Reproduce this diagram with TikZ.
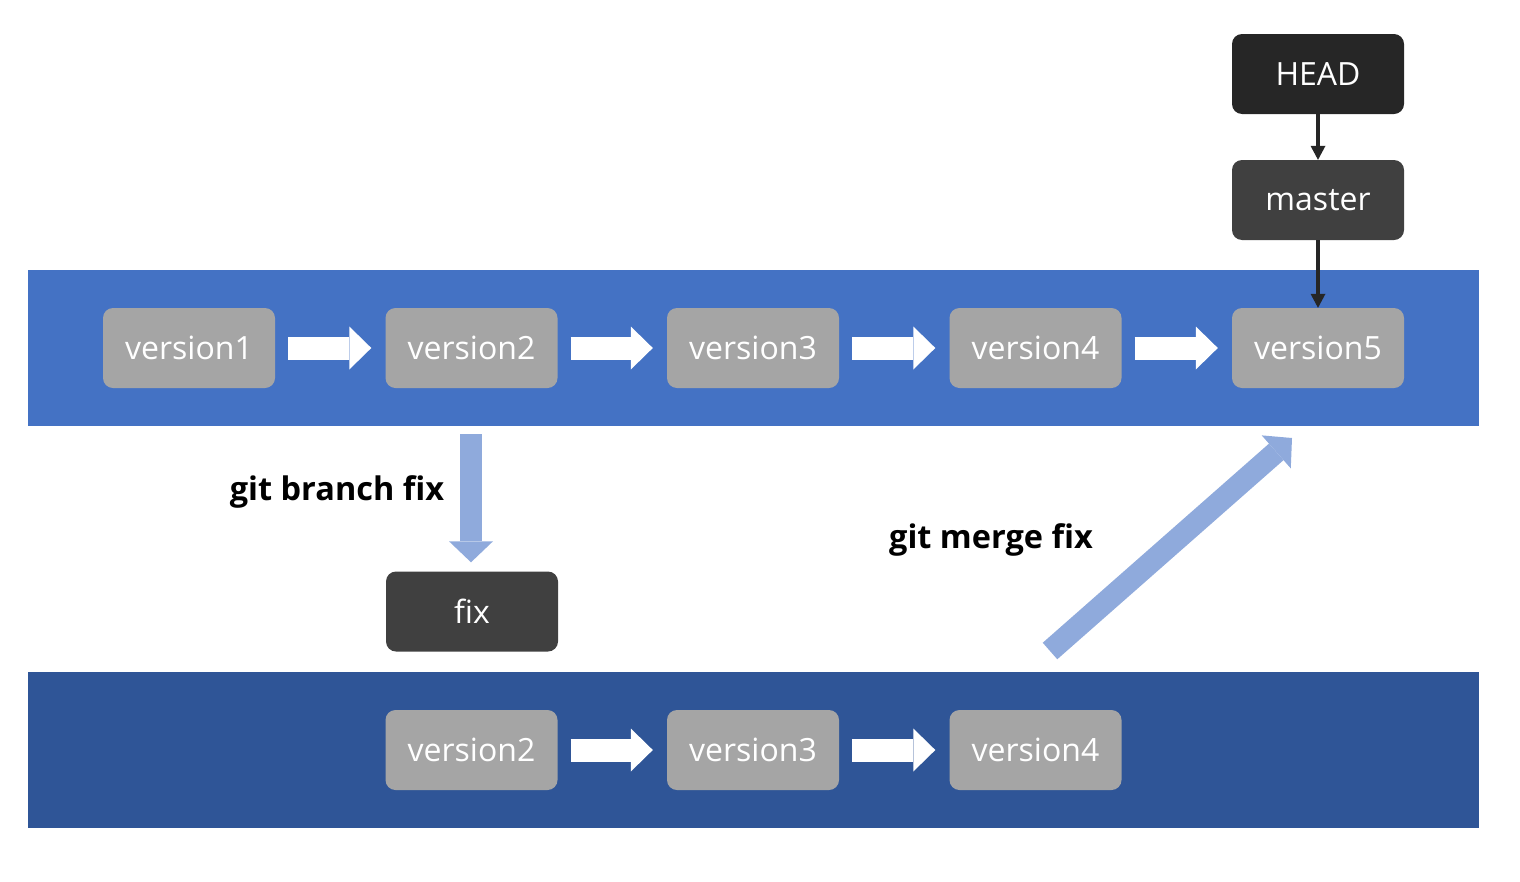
\documentclass[tikz,border=0pt]{standalone}
\usepackage{fontspec}
\setmainfont{Open Sans}
\usetikzlibrary{arrows.meta}
\definecolor{bandA}{HTML}{4472C4}
\definecolor{bandB}{HTML}{2F5597}
\definecolor{vgray}{HTML}{A5A5A5}
\definecolor{headc}{HTML}{262626}
\definecolor{darkc}{HTML}{404040}
\definecolor{lblue}{HTML}{8FAADC}
\tikzset{
  band/.style={fill=#1, draw=none, minimum width=1451pt, minimum height=156pt, inner sep=0pt},
  vbox/.style={fill=vgray, rounded corners=10pt, minimum width=172pt, minimum height=80pt, inner sep=0pt,
    text=white, font=\fontsize{32}{38}\selectfont},
  dbox/.style={vbox, fill=#1},
  whitearrow/.style={draw=white, line width=23pt, -{Triangle[length=22pt,width=43pt,line width=0pt]},
    shorten <=13pt, shorten >=14pt},
  bluearrow/.style={draw=lblue, line width=22pt, -{Triangle[length=21pt,width=44pt,line width=0pt]}},
  ptr/.style={draw=headc, line width=4pt, -{Triangle[length=14pt,width=15pt,line width=0pt]}},
  cmd/.style={font=\fontsize{32.5}{38}\selectfont\bfseries, text=black, inner sep=0pt}
}
\begin{document}
\begin{tikzpicture}[x=1pt,y=-1pt]
\useasboundingbox (0,0) rectangle (1520,881);
% bands
\node[band=bandA] (topband) at (753.5,348) {};
\node[band=bandB] (botband) at (753.5,750) {};
% top row
\node[vbox] (v1) at (189,348) {version1};
\node[vbox] (v2) at (471.5,348) {version2};
\node[vbox] (v3) at (753,348) {version3};
\node[vbox] (v4) at (1035.5,348) {version4};
\node[vbox] (v5) at (1318,348) {version5};
% bottom row
\node[vbox] (b2) at (471.5,750) {version2};
\node[vbox] (b3) at (753,750) {version3};
\node[vbox] (b4) at (1035.5,750) {version4};
% pointers
\node[dbox=headc] (head) at (1318,74) {HEAD};
\node[dbox=darkc] (master) at (1318,200) {master};
\node[dbox=darkc] (fix) at (472,611.5) {fix};
% white arrows
\draw[whitearrow] (v1) -- (v2);
\draw[whitearrow] (v2) -- (v3);
\draw[whitearrow] (v3) -- (v4);
\draw[whitearrow] (v4) -- (v5);
\draw[whitearrow] (b2) -- (b3);
\draw[whitearrow] (b3) -- (b4);
% pointer arrows
\draw[ptr] (head) -- (master);
\draw[ptr] (master) -- (v5);
% branch arrow
\draw[bluearrow, shorten <=46pt, shorten >=9pt] (471,388) -- (fix.north -| 471,0);
% merge arrow
\coordinate (m1) at (1050,651);
\coordinate (m2) at (1292,438);
\draw[bluearrow] (m1) -- (m2);
% labels
\node[cmd] (lb) at (337,492) {git branch fix};
\node[cmd] (lm) at (991,540) {git merge fix};
\end{tikzpicture}
\end{document}
